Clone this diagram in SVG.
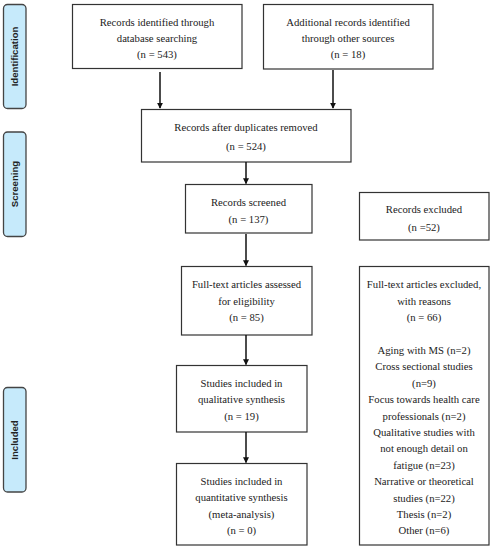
<svg xmlns="http://www.w3.org/2000/svg" width="492" height="550" viewBox="0 0 492 550">
<style>
.box{fill:#fff;stroke:#333;stroke-width:1.2}
.phase{fill:#c6eafb;stroke:#444;stroke-width:1.3}
.t{font-family:"Liberation Serif","Times New Roman",serif;font-size:10.7px;fill:#222;text-anchor:middle}
.pl{font-family:"Liberation Sans",Arial,sans-serif;font-size:9.6px;font-weight:bold;fill:#222;text-anchor:middle}
.arr{stroke:#111;stroke-width:1.5;fill:none;marker-end:url(#ah)}
</style>
<defs>
<marker id="ah" viewBox="0 0 8 8" refX="7" refY="4" markerWidth="6" markerHeight="6" markerUnits="userSpaceOnUse" orient="auto">
<path d="M0,0 L8,4 L0,8 z" fill="#111"/>
</marker>
</defs>
<g id="phase-identification"><rect class="phase" x="3.5" y="4.5" width="22.5" height="104" rx="4"/><text class="pl" transform="translate(18.3,56.5) rotate(-90)">Identification</text></g>
<g id="phase-screening"><rect class="phase" x="3.5" y="132" width="22.5" height="104.5" rx="4"/><text class="pl" transform="translate(18.3,184) rotate(-90)">Screening</text></g>
<g id="phase-included"><rect class="phase" x="3.5" y="387.5" width="22.5" height="104.5" rx="4"/><text class="pl" transform="translate(18.3,440) rotate(-90)">Included</text></g>
<g id="n1"><rect class="box" x="72.5" y="4.5" width="169.5" height="64"/>
<text class="t" x="157" y="25.5">Records identified through</text><text class="t" x="157" y="41.7">database searching</text><text class="t" x="157" y="58.2">(n = 543)</text></g>
<g id="n2"><rect class="box" x="263.5" y="4.5" width="169.5" height="64.5"/>
<text class="t" x="348" y="25.5">Additional records identified</text><text class="t" x="348" y="41.7">through other sources</text><text class="t" x="348" y="58.2">(n = 18)</text></g>
<g id="n3"><rect class="box" x="141.5" y="109.5" width="209.5" height="52.5"/>
<text class="t" x="246" y="131">Records after duplicates removed</text><text class="t" x="246" y="150">(n = 524)</text></g>
<g id="n4"><rect class="box" x="185.5" y="184.5" width="126.5" height="48.5"/>
<text class="t" x="248.5" y="206">Records screened</text><text class="t" x="248.5" y="223">(n = 137)</text></g>
<g id="n5"><rect class="box" x="359.5" y="192.5" width="129.5" height="47.5"/>
<text class="t" x="424" y="213">Records excluded</text><text class="t" x="424" y="231">(n =52)</text></g>
<g id="n6"><rect class="box" x="181.5" y="266.5" width="130.5" height="68.5"/>
<text class="t" x="246.5" y="288">Full-text articles assessed</text><text class="t" x="246.5" y="304.5">for eligibility</text><text class="t" x="246.5" y="321">(n = 85)</text></g>
<g id="n7"><rect class="box" x="359.5" y="266.5" width="129.5" height="278.5"/>
<text class="t" x="424" y="288">Full-text articles excluded,</text><text class="t" x="424" y="304.5">with reasons</text><text class="t" x="424" y="321">(n = 66)</text>
<text class="t" x="424" y="354">Aging with MS (n=2)</text><text class="t" x="424" y="370.4">Cross sectional studies</text><text class="t" x="424" y="386.8">(n=9)</text><text class="t" x="424" y="403">Focus towards health care</text><text class="t" x="424" y="419.5">professionals (n=2)</text><text class="t" x="424" y="436">Qualitative studies with</text><text class="t" x="424" y="452.3">not enough detail on</text><text class="t" x="424" y="468.8">fatigue (n=23)</text><text class="t" x="424" y="485.2">Narrative or theoretical</text><text class="t" x="424" y="501.5">studies (n=22)</text><text class="t" x="424" y="518">Thesis (n=2)</text><text class="t" x="424" y="534.3">Other (n=6)</text></g>
<g id="n8"><rect class="box" x="176.5" y="365.5" width="130.5" height="66.5"/>
<text class="t" x="241.5" y="387">Studies included in</text><text class="t" x="241.5" y="403.3">qualitative synthesis</text><text class="t" x="241.5" y="419.8">(n = 19)</text></g>
<g id="n9"><rect class="box" x="176.5" y="463.5" width="130.5" height="81.5"/>
<text class="t" x="241.5" y="485">Studies included in</text><text class="t" x="241.5" y="501.3">quantitative synthesis</text><text class="t" x="241.5" y="517.8">(meta-analysis)</text><text class="t" x="241.5" y="534.2">(n = 0)</text></g>
<g id="connectors">
<line class="arr" x1="160" y1="72" x2="160" y2="108"/>
<line class="arr" x1="333" y1="70" x2="333" y2="108"/>
<line class="arr" x1="246" y1="162" x2="246" y2="183.5"/>
<line class="arr" x1="246" y1="234" x2="246" y2="265.5"/>
<line class="arr" x1="246" y1="335" x2="246" y2="364.5"/>
<line class="arr" x1="246" y1="432" x2="246" y2="462.5"/>
</g>
</svg>
